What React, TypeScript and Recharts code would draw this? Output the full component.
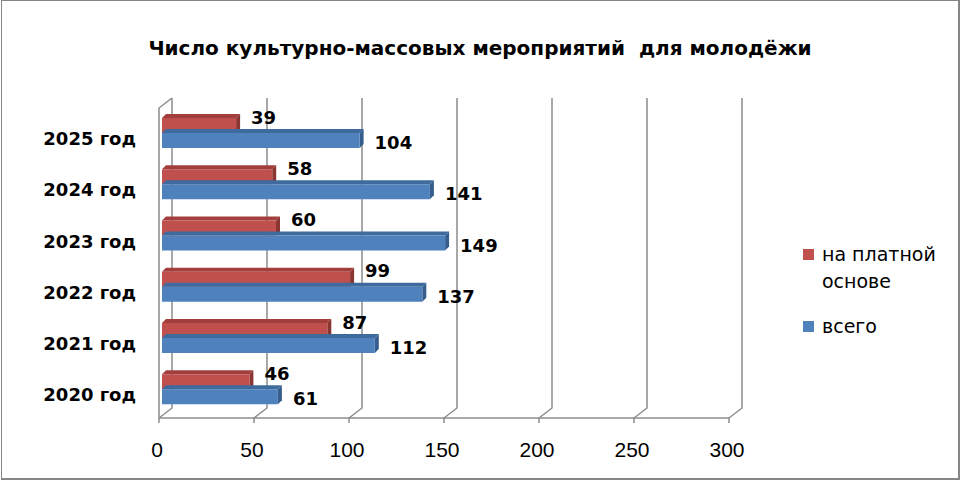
import React from "react";
import {
  BarChart,
  Bar,
  XAxis,
  YAxis,
  CartesianGrid,
  Legend,
  LabelList,
} from "recharts";

const years = ["2020 год", "2021 год", "2022 год", "2023 год", "2024 год", "2025 год"];
const paid = [46, 87, 99, 60, 58, 39];
const total = [61, 112, 137, 149, 141, 104];
const xTicks = [0, 50, 100, 150, 200, 250, 300];

const SERIES = [
  { key: "paid", name: "на платной основе", front: "#C0504D", top: "#A23F3C", side: "#8A3532" },
  { key: "total", name: "всего", front: "#4F81BD", top: "#3E6A9E", side: "#365D8B" },
];

// top row is 2025, so reverse the chronological arrays
const rows = years
  .map((year, i) => ({ year, paid: paid[i], total: total[i] }))
  .reverse();

const GRID = "#8C8C8C";
const BOLD = "'DejaVu Sans', sans-serif";
const PLAIN = "'Liberation Sans', Arial, sans-serif";
const DEPTH = 4;
const FLOOR = 3.5; // front floor edge sits a little below the plot bottom

// bar drawn as a little box: front face, top face, right side
const makeBox = (s: (typeof SERIES)[number]) => (props: any) => {
  const { x, y, width, height } = props;
  if (!width || width <= 0) return <g />;
  const r = x + width;
  return (
    <g>
      <polygon
        points={`${x},${y} ${r},${y} ${r + DEPTH},${y - DEPTH} ${x + DEPTH},${y - DEPTH}`}
        fill={s.top}
      />
      <polygon
        points={`${r},${y} ${r + DEPTH},${y - DEPTH} ${r + DEPTH},${y + height - DEPTH} ${r},${y + height}`}
        fill={s.side}
      />
      <rect x={x} y={y} width={width} height={height} fill={s.front} />
    </g>
  );
};

// back-wall gridline with the slanted floor edge
const gridLine = (props: any) => {
  const { x1, y1, y2, index } = props;
  const back = x1 + 10;
  const front = x1 - 3;
  const floor = y2 + FLOOR;
  return (
    <g key={`g-${index}-${x1}`}>
      <path
        d={`M${back},${y1 - 9} V${floor - 10} L${front},${floor} V${floor + 5}`}
        stroke={GRID}
        strokeWidth={1.5}
        fill="none"
      />
      {index === 0 && (
        <path
          d={`M${front},${floor} V${y1 + 1} L${back},${y1 - 9}`}
          stroke={GRID}
          strokeWidth={1.5}
          fill="none"
        />
      )}
    </g>
  );
};

const valueLabel = (upper: boolean) => (props: any) => {
  const { x, y, width, height, value } = props;
  const cy = upper ? y - 1 : y + height / 2 + 2;
  return (
    <text
      x={x + width + 15}
      y={cy}
      dominantBaseline="central"
      fontFamily={BOLD}
      fontWeight="bold"
      fontSize={18}
      fill="#000"
    >
      {value}
    </text>
  );
};

const LegendBox = () => (
  <div style={{ fontFamily: BOLD, fontSize: 19, color: "#000", lineHeight: "27px" }}>
    {SERIES.map((s, i) => (
      <div key={s.key} style={{ display: "flex", marginTop: i ? 18 : 0 }}>
        <span
          style={{
            width: 11,
            height: 11,
            background: s.front,
            marginTop: 8,
            marginRight: 8,
            flex: "none",
          }}
        />
        <span style={{ width: 125 }}>{s.name}</span>
      </div>
    ))}
  </div>
);

export default function App() {
  return (
    <div style={{ position: "absolute", left: 0, top: 0, width: 960, height: 480, background: "#fff" }}>
      <div
        style={{
          position: "absolute",
          left: 1,
          top: 0,
          width: 956,
          height: 477,
          borderStyle: "solid",
          borderColor: "#868686",
          borderWidth: "1px 2px 2px 1px",
        }}
      />
      <div
        style={{
          position: "absolute",
          left: 0,
          width: 960,
          top: 36,
          textAlign: "center",
          fontFamily: BOLD,
          fontWeight: "bold",
          fontSize: 20,
          whiteSpace: "pre",
        }}
      >
        {"Число культурно-массовых мероприятий  для молодёжи"}
      </div>
      <div style={{ position: "absolute", left: 0, top: 0 }}>
        <BarChart
          width={960}
          height={480}
          data={rows}
          layout="vertical"
          margin={{ top: 107, right: 228, bottom: 25.5, left: 12 }}
          barGap={0}
          barSize={15}
        >
          <CartesianGrid horizontal={false} vertical={gridLine} />
          <XAxis
            type="number"
            domain={[0, 300]}
            ticks={xTicks}
            interval={0}
            height={40}
            tickSize={0}
            tickMargin={27.5}
            tickLine={false}
            axisLine={{
              stroke: GRID,
              strokeWidth: 1.5,
              style: { transform: `translate(-3px, ${FLOOR}px)` },
            }}
            tick={{ fill: "#000", fontSize: 21, fontFamily: PLAIN, dx: -5 }}
          />
          <YAxis
            type="category"
            dataKey="year"
            width={150}
            tickSize={0}
            tickMargin={26}
            tickLine={false}
            axisLine={false}
            tick={{ fill: "#000", fontSize: 18, fontFamily: BOLD, fontWeight: "bold", dy: 6 }}
          />
          <Legend
            layout="horizontal"
            verticalAlign="middle"
            align="center"
            content={<LegendBox />}
            wrapperStyle={{ left: 803, top: 241, width: 150 }}
          />
          {SERIES.map((s, i) => (
            <Bar
              key={s.key}
              dataKey={s.key}
              name={s.name}
              fill={s.front}
              shape={makeBox(s)}
              isAnimationActive={false}
            >
              <LabelList dataKey={s.key} content={valueLabel(i === 0)} />
            </Bar>
          ))}
        </BarChart>
      </div>
    </div>
  );
}
